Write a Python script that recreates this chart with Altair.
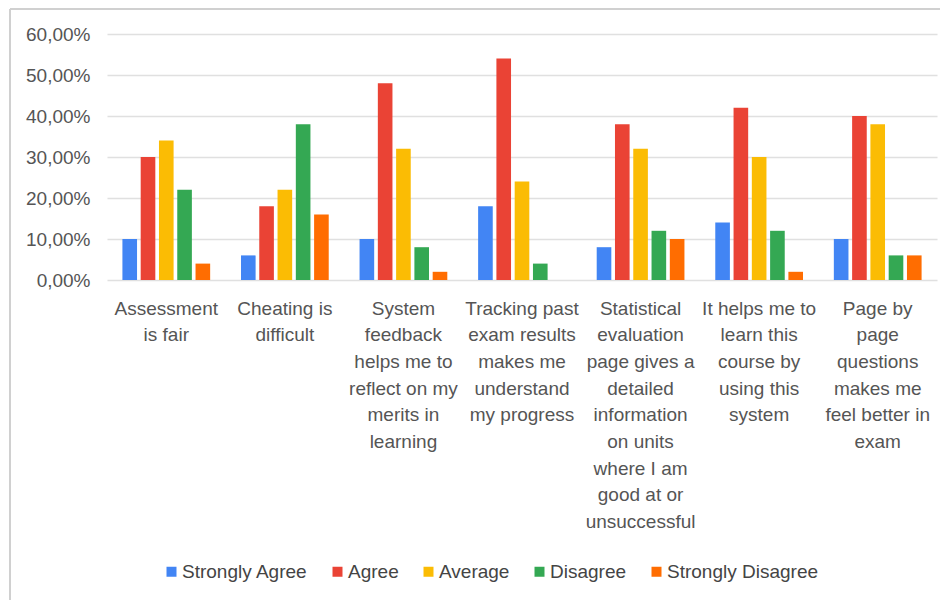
import altair as alt
import pandas as pd

# Category labels (line-broken as in the reference)
category_lines = [
    ["Assessment", "is fair"],
    ["Cheating is", "difficult"],
    ["System", "feedback", "helps me to", "reflect on my", "merits in", "learning"],
    ["Tracking past", "exam results", "makes me", "understand", "my progress"],
    ["Statistical", "evaluation", "page gives a", "detailed", "information", "on units",
     "where I am", "good at or", "unsuccessful"],
    ["It helps me to", "learn this", "course by", "using this", "system"],
    ["Page by", "page", "questions", "makes me", "feel better in", "exam"],
]
series = ["Strongly Agree", "Agree", "Average", "Disagree", "Strongly Disagree"]
colors = ["#4285F4", "#EA4335", "#FBBC04", "#34A853", "#FF6D01"]

# Values in percent
strongly_agree = [10, 6, 10, 18, 8, 14, 10]
agree = [30, 18, 48, 54, 38, 42, 40]
average = [34, 22, 32, 24, 32, 30, 38]
disagree = [22, 38, 8, 4, 12, 12, 6]
strongly_disagree = [4, 16, 2, 0, 10, 2, 6]

y_ticks = [0, 0.1, 0.2, 0.3, 0.4, 0.5, 0.6]

categories = ["|".join(lines) for lines in category_lines]
series_values = [strongly_agree, agree, average, disagree, strongly_disagree]
rows = []
for s, vals in zip(series, series_values):
    for c, v in zip(categories, vals):
        rows.append({"category": c, "series": s, "value": v / 100.0})
df = pd.DataFrame(rows)

FONT = "Liberation Sans"
LABEL_COLOR = "#555555"

bars = alt.Chart(df).mark_bar().encode(
    x=alt.X(
        "category:N",
        sort=categories,
        scale=alt.Scale(paddingInner=0.26, paddingOuter=0.13),
        axis=alt.Axis(
            title=None,
            labelAngle=0,
            labelExpr="split(datum.label, '|')",
            labelFont=FONT,
            labelFontSize=19,
            labelColor=LABEL_COLOR,
            labelLineHeight=26.7,
            labelBaseline="top",
            labelAlign="center",
            labelPadding=19,
            labelLimit=0,
            ticks=False,
            domain=False,
            grid=False,
        ),
    ),
    xOffset=alt.XOffset("series:N", sort=series,
                        scale=alt.Scale(paddingInner=0.2, paddingOuter=0.0)),
    y=alt.Y(
        "value:Q",
        scale=alt.Scale(domain=[0, 0.6], nice=False),
        axis=alt.Axis(
            title=None,
            values=y_ticks,
            labelExpr="replace(format(datum.value, '.2%'), '.', ',')",
            labelFont=FONT,
            labelFontSize=19,
            labelColor=LABEL_COLOR,
            labelPadding=17,
            ticks=False,
            domain=False,
            grid=True,
            gridColor="#e0e0e0",
            gridWidth=1.5,
        ),
    ),
    color=alt.Color(
        "series:N",
        sort=series,
        scale=alt.Scale(domain=series, range=colors),
        legend=alt.Legend(
            title=None,
            orient="none",
            direction="horizontal",
            legendX=55,
            legendY=528,
            symbolType="square",
            symbolSize=100,
            symbolStrokeWidth=0,
            labelFont=FONT,
            labelFontSize=19,
            labelColor="#444444",
            columnPadding=20,
            labelOffset=1,
        ),
    ),
)

frame_df = pd.DataFrame({"a": [0]})
left_line = alt.Chart(frame_df).mark_rule(color="#d0d0d0", strokeWidth=2, clip=False).encode(
    x=alt.value(-97), y=alt.value(-25), y2=alt.value(575)
)
top_line = alt.Chart(frame_df).mark_rule(color="#d0d0d0", strokeWidth=2, clip=False).encode(
    x=alt.value(-97), x2=alt.value(845), y=alt.value(-25)
)

chart = alt.layer(bars, left_line, top_line).properties(
    width=830,
    height=246,
    padding={"left": 99, "top": 26, "right": 3, "bottom": 320},
    autosize=alt.AutoSizeParams(type="none"),
    background="white",
).configure_view(stroke=None)

chart.save("out.html", embed_options={"renderer": "svg", "actions": False})
